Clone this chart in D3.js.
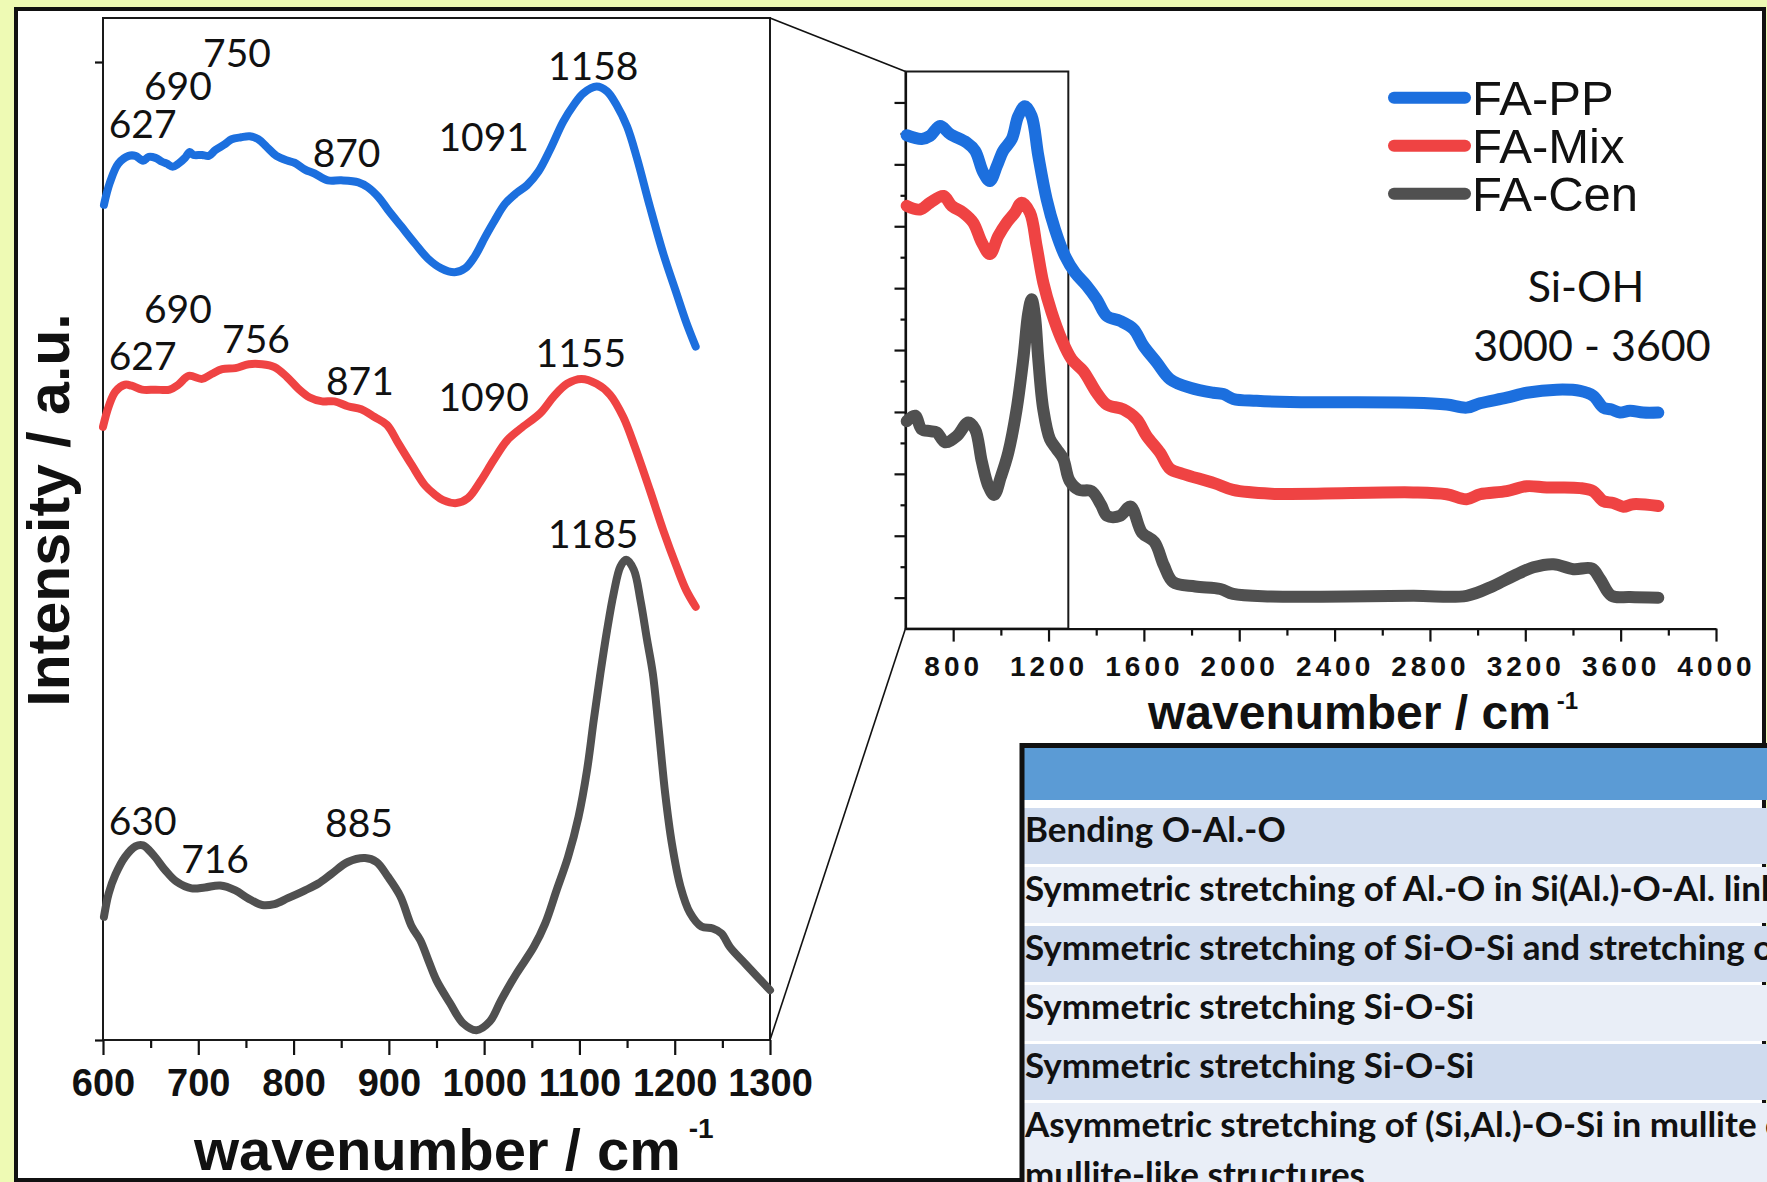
<!DOCTYPE html>
<html>
	<head>
		<meta charset="utf-8">
		<title>FTIR spectra of fly ash samples</title>
		<script src="https://d3js.org/d3.v7.min.js"></script>
		<style>
			body { margin: 0; background: #eefab4; }
			svg { display: block; }
		</style>
	</head>
	<body>
	<div id="chart"></div>
	<script type="text/javascript">
		// Series names and colours
		var seriesNames  = ["FA-PP", "FA-Mix", "FA-Cen"];
		var seriesColors = ["#1c6fde", "#ef4343", "#505050"];

		// Left panel, zoomed spectra 600 - 1300 cm-1 : [wavenumber, intensity a.u.]
		var ppZoom = [[601,85.4],[607,87.6],[616,89.6],[627,90.4],[634,90.4],[642,89.9],[648,90.3],[655,90.2],[662,89.8],[667,89.6],[673,89.3],[679,89.6],[686,90.2],[691,90.8],[695,90.5],[704,90.5],[711,90.4],[718,91.0],[728,91.6],[735,92.1],[745,92.3],[754,92.4],[763,92.1],[772,91.3],[782,90.4],[794,89.9],[801,89.7],[812,89.0],[822,88.6],[836,87.9],[850,87.9],[868,87.7],[878,87.2],[889,86.2],[899,84.9],[913,83.2],[927,81.5],[941,79.9],[955,78.9],[969,78.5],[980,78.9],[990,80.1],[1001,82.1],[1011,83.8],[1022,85.5],[1034,86.6],[1045,87.4],[1057,88.8],[1069,91.0],[1083,93.9],[1094,95.6],[1104,96.8],[1118,97.5],[1129,97.0],[1139,95.6],[1150,93.4],[1160,90.3],[1174,85.2],[1188,80.4],[1202,76.3],[1212,73.4],[1222,70.9]];
		var mixZoom = [[600,62.7],[606,64.8],[613,66.3],[623,67.0],[630,66.9],[641,66.5],[655,66.5],[670,66.5],[679,67.0],[690,67.9],[704,67.6],[714,68.1],[725,68.6],[739,68.7],[753,69.1],[767,69.1],[780,68.8],[793,67.8],[805,66.6],[817,65.7],[830,65.3],[843,65.3],[857,64.8],[871,64.5],[885,63.7],[898,62.9],[910,61.0],[924,58.8],[938,56.7],[948,55.8],[957,55.2],[971,54.9],[983,55.4],[996,57.1],[1010,59.3],[1024,61.3],[1038,62.5],[1059,64.1],[1073,65.8],[1087,67.1],[1102,67.6],[1118,67.1],[1132,66.0],[1146,63.7],[1158,60.7],[1174,56.2],[1188,52.1],[1202,48.4],[1212,46.0],[1222,44.3]];
		var cenZoom = [[601,12.6],[606,15.0],[613,16.9],[623,18.7],[634,19.8],[642,19.9],[653,18.9],[665,17.4],[677,16.2],[693,15.5],[707,15.6],[723,15.8],[739,15.3],[752,14.5],[767,13.8],[780,13.9],[794,14.5],[812,15.3],[826,16.0],[840,17.0],[857,18.2],[875,18.6],[887,18.2],[899,16.7],[912,14.7],[924,11.6],[933,10.2],[942,8.0],[950,6.1],[964,3.8],[978,1.7],[992,1.0],[1006,1.9],[1018,4.1],[1034,6.8],[1052,9.5],[1064,11.9],[1076,15.3],[1088,18.7],[1099,22.8],[1108,27.6],[1115,32.7],[1122,37.5],[1129,41.9],[1136,45.7],[1143,48.4],[1149,49.1],[1157,48.1],[1164,45.0],[1171,40.9],[1177,37.5],[1183,32.0],[1190,25.2],[1197,20.1],[1206,15.7],[1216,13.0],[1228,11.6],[1240,11.4],[1249,10.9],[1258,9.5],[1275,7.7],[1300,5.1]];

		// Right panel, full spectra 600 - 4000 cm-1 : [wavenumber, intensity a.u.]
		var ppFull = [[605,7.47],[668,7.41],[703,7.46],[745,7.62],[787,7.49],[857,7.35],[892,7.22],[926,6.87],[954,6.73],[983,6.97],[1010,7.22],[1046,7.41],[1073,7.78],[1101,7.94],[1129,7.78],[1157,7.14],[1192,6.44],[1227,5.95],[1269,5.52],[1311,5.25],[1360,5.04],[1402,4.82],[1444,4.55],[1500,4.47],[1556,4.34],[1598,4.07],[1654,3.80],[1710,3.53],[1794,3.39],[1891,3.31],[1933,3.29],[1975,3.21],[2073,3.18],[2213,3.16],[2730,3.15],[2870,3.12],[2954,3.07],[3010,3.14],[3122,3.23],[3206,3.31],[3332,3.36],[3430,3.34],[3485,3.26],[3527,3.07],[3562,3.04],[3597,2.99],[3639,3.02],[3695,2.99],[3758,2.99]];
		var mixFull = [[605,6.33],[661,6.27],[703,6.38],[759,6.49],[794,6.33],[842,6.22],[884,6.06],[920,5.74],[954,5.55],[989,5.84],[1025,6.06],[1059,6.22],[1087,6.38],[1122,6.22],[1150,5.68],[1178,5.09],[1213,4.61],[1255,4.17],[1297,3.85],[1346,3.66],[1402,3.31],[1444,3.12],[1514,3.04],[1570,2.88],[1612,2.61],[1668,2.34],[1710,2.08],[1763,2.00],[1895,1.85],[1974,1.74],[2133,1.68],[2730,1.70],[2870,1.67],[2954,1.59],[3010,1.67],[3122,1.72],[3206,1.80],[3290,1.78],[3430,1.77],[3485,1.72],[3527,1.56],[3569,1.53],[3611,1.47],[3653,1.51],[3758,1.48]];
		var cenFull = [[605,2.85],[640,2.94],[668,2.72],[703,2.69],[731,2.67],[766,2.51],[815,2.61],[863,2.83],[892,2.72],[920,2.20],[948,1.80],[972,1.66],[1000,1.95],[1031,2.34],[1066,3.04],[1094,3.85],[1115,4.60],[1129,4.82],[1143,4.55],[1157,3.85],[1178,3.04],[1206,2.56],[1234,2.40],[1262,2.24],[1288,1.89],[1327,1.74],[1380,1.72],[1420,1.50],[1446,1.32],[1499,1.32],[1544,1.47],[1592,1.05],[1644,0.90],[1684,0.52],[1723,0.25],[1816,0.18],[1921,0.14],[1974,0.06],[2133,0.02],[2730,0.03],[2954,0.03],[3066,0.19],[3150,0.35],[3234,0.49],[3318,0.54],[3402,0.46],[3479,0.47],[3514,0.30],[3562,0.03],[3639,0.01],[3758,0.00]];

		// Peak labels of the left panel : [text, wavenumber of left edge, intensity of baseline]
		var peakLabels = [["750",705,99.5],["690",643,96.1],["627",606,92.2],["870",820,89.3],["1091",952,90.9],["1158",1067,98.2],
		                  ["690",643,73.3],["627",606,68.5],["756",725,70.2],["871",834,66.0],["1090",952,64.3],["1155",1054,68.8],
		                  ["1185",1067,50.3],["630",606,21.0],["716",682,17.1],["885",833,20.8]];

		// Ticks
		var leftMajorTicks  = d3.range(600, 1301, 100);
		var leftMinorTicks  = d3.range(650, 1300, 100);
		var rightMajorTicks = d3.range(800, 4001, 400);
		var rightMinorTicks = d3.range(1000, 4000, 400);
		var rightYMajor     = d3.range(0, 9, 1);
		var rightYMinor     = d3.range(0.5, 8, 1);
		var zoomWindow      = [600, 1283];

		// Table rows under the inset
		var tableRows = ["Bending O-Al.-O",
		                 "Symmetric stretching of Al.-O in Si(Al.)-O-Al. linkages",
		                 "Symmetric stretching of Si-O-Si and stretching of",
		                 "Symmetric stretching Si-O-Si",
		                 "Symmetric stretching Si-O-Si",
		                 "Asymmetric stretching of (Si,Al.)-O-Si in mullite or"];
		var tableLastLine = "mullite-like structures";

		const W = 1767, H = 1182;
		const axisFont = "'Liberation Sans', Arial, sans-serif";
		const noteFont = "Lato, 'Noto Sans', sans-serif";

		var svg = d3.select("#chart").append("svg")
			.attr("width", W)
			.attr("height", H);

		// Yellow page and black frame
		svg.append("rect").attr("width", W).attr("height", H).attr("fill", "#eefab4");
		svg.append("rect")
			.attr("x", 16).attr("y", 9).attr("width", 1748).attr("height", 1171)
			.attr("fill", "#ffffff").attr("stroke", "#111").attr("stroke-width", 4);

		var lineGen = function(xs, ys) {
			return d3.line()
				.x(function(d) { return xs(d[0]); })
				.y(function(d) { return ys(d[1]); })
				.curve(d3.curveCatmullRom.alpha(0.5));
		};

		////////// LEFT PANEL //////////
		var xL = d3.scaleLinear().domain([600, 1300]).range([103, 770]);
		var yL = d3.scaleLinear().domain([0, 104.5]).range([1040, 18]);

		var left = svg.append("g");

		left.append("rect")
			.attr("x", xL(600)).attr("y", yL(104.5))
			.attr("width", xL(1300) - xL(600)).attr("height", yL(0) - yL(104.5))
			.attr("fill", "none").attr("stroke", "#1a1a1a").attr("stroke-width", 2);

		// X axis, major ticks with labels
		var gxL = left.append("g")
			.attr("transform", "translate(0," + yL(0) + ")")
			.call(d3.axisBottom(xL).tickValues(leftMajorTicks).tickSize(15).tickFormat(d3.format("d")));
		gxL.selectAll("text")
			.attr("y", 56).attr("dy", 0)
			.attr("font-family", axisFont).attr("font-size", 38).attr("font-weight", "bold").attr("fill", "#111");

		// X axis, minor ticks
		var gxLm = left.append("g")
			.attr("transform", "translate(0," + yL(0) + ")")
			.call(d3.axisBottom(xL).tickValues(leftMinorTicks).tickSize(8).tickFormat(""));

		// Y axis, two ticks only
		var gyL = left.append("g")
			.attr("transform", "translate(" + xL(600) + ",0)")
			.call(d3.axisLeft(yL).tickValues([0, 100]).tickSize(8).tickFormat(""));

		[gxL, gxLm, gyL].forEach(function(g) {
			g.select(".domain").remove();
			g.selectAll("line").attr("stroke", "#111").attr("stroke-width", 2.2);
		});

		// Curves
		[ppZoom, mixZoom, cenZoom].forEach(function(data, i) {
			left.append("path")
				.datum(data)
				.attr("d", lineGen(xL, yL))
				.attr("fill", "none")
				.attr("stroke", seriesColors[i])
				.attr("stroke-width", 8)
				.attr("stroke-linecap", "round")
				.attr("stroke-linejoin", "round");
		});

		// Peak labels
		left.selectAll(".peak")
			.data(peakLabels)
			.enter().append("text")
			.attr("class", "peak")
			.attr("x", function(d) { return xL(d[1]); })
			.attr("y", function(d) { return yL(d[2]); })
			.attr("font-family", noteFont).attr("font-size", 39).attr("fill", "#111")
			.text(function(d) { return d[0]; });

		// Axis titles
		var tL = left.append("text")
			.attr("x", 194).attr("y", 1170)
			.attr("font-family", axisFont).attr("font-size", 58).attr("font-weight", "bold").attr("fill", "#111");
		tL.append("tspan").text("wavenumber / cm");
		tL.append("tspan").attr("dx", 8).attr("dy", -32).attr("font-size", 28).text("-1");

		left.append("text")
			.attr("transform", "translate(69,510) rotate(-90)")
			.attr("text-anchor", "middle")
			.attr("font-family", axisFont).attr("font-size", 59).attr("font-weight", "bold").attr("fill", "#111")
			.text("Intensity / a.u.");

		////////// RIGHT PANEL (INSET) //////////
		var xR = d3.scaleLinear().domain([600, 4000]).range([905.5, 1716]);
		var yR = d3.scaleLinear().domain([-0.5, 8.5]).range([628.6, 71.5]);

		var right = svg.append("g");

		// Connectors from the left panel to the zoom window
		right.append("line")
			.attr("x1", xL(1300)).attr("y1", yL(104.5)).attr("x2", xR(600)).attr("y2", yR(8.5))
			.attr("stroke", "#111").attr("stroke-width", 1.6);
		right.append("line")
			.attr("x1", xL(1300)).attr("y1", yL(0)).attr("x2", xR(600)).attr("y2", yR(-0.5))
			.attr("stroke", "#111").attr("stroke-width", 1.6);

		// Zoom window
		right.append("rect")
			.attr("x", xR(zoomWindow[0])).attr("y", yR(8.5))
			.attr("width", xR(zoomWindow[1]) - xR(zoomWindow[0])).attr("height", yR(-0.5) - yR(8.5))
			.attr("fill", "none").attr("stroke", "#1a1a1a").attr("stroke-width", 2);

		var gxR = right.append("g")
			.attr("transform", "translate(0," + yR(-0.5) + ")")
			.call(d3.axisBottom(xR).tickValues(rightMajorTicks).tickSize(13).tickSizeOuter(0).tickFormat(d3.format("d")));
		gxR.selectAll("text")
			.attr("y", 47).attr("dy", 0).attr("dx", 0)
			.attr("font-family", axisFont).attr("font-size", 28).attr("font-weight", "bold")
			.attr("letter-spacing", 4).attr("fill", "#111");
		var gxRm = right.append("g")
			.attr("transform", "translate(0," + yR(-0.5) + ")")
			.call(d3.axisBottom(xR).tickValues(rightMinorTicks).tickSize(7).tickFormat(""));
		gxRm.select(".domain").remove();

		var gyR = right.append("g")
			.attr("transform", "translate(" + xR(600) + ",0)")
			.call(d3.axisLeft(yR).tickValues(rightYMajor).tickSize(11).tickSizeOuter(0).tickFormat(""));
		var gyRm = right.append("g")
			.attr("transform", "translate(" + xR(600) + ",0)")
			.call(d3.axisLeft(yR).tickValues(rightYMinor).tickSize(5).tickFormat(""));
		gyRm.select(".domain").remove();

		[gxR, gxRm, gyR, gyRm].forEach(function(g) {
			g.selectAll("line").attr("stroke", "#111").attr("stroke-width", 2.2);
			g.selectAll(".domain").attr("stroke", "#111").attr("stroke-width", 2.2);
		});

		[ppFull, mixFull, cenFull].forEach(function(data, i) {
			right.append("path")
				.datum(data)
				.attr("d", lineGen(xR, yR))
				.attr("fill", "none")
				.attr("stroke", seriesColors[i])
				.attr("stroke-width", 12)
				.attr("stroke-linecap", "round")
				.attr("stroke-linejoin", "round");
		});

		var tR = right.append("text")
			.attr("x", 1148).attr("y", 729)
			.attr("font-family", axisFont).attr("font-size", 48).attr("font-weight", "bold").attr("fill", "#111");
		tR.append("tspan").text("wavenumber / cm");
		tR.append("tspan").attr("dx", 6).attr("dy", -20).attr("font-size", 24).text("-1");

		// Legend
		var legend = right.selectAll(".legend")
			.data(seriesNames)
			.enter().append("g")
			.attr("class", "legend")
			.attr("transform", function(d, i) { return "translate(1394," + (97.7 + i * 48) + ")"; });
		legend.append("line")
			.attr("x1", 0).attr("x2", 71)
			.attr("stroke", function(d, i) { return seriesColors[i]; })
			.attr("stroke-width", 12).attr("stroke-linecap", "round");
		legend.append("text")
			.attr("x", 78).attr("y", 17)
			.attr("font-family", axisFont).attr("font-size", 49).attr("fill", "#111")
			.text(function(d) { return d; });

		// Si-OH note
		right.append("text")
			.attr("x", 1586).attr("y", 302).attr("text-anchor", "middle")
			.attr("font-family", noteFont).attr("font-size", 43).attr("fill", "#111")
			.text("Si-OH");
		right.append("text")
			.attr("x", 1592).attr("y", 361).attr("text-anchor", "middle")
			.attr("font-family", noteFont).attr("font-size", 43).attr("fill", "#111")
			.text("3000 - 3600");

		////////// TABLE //////////
		var table = svg.append("g");
		table.append("rect")
			.attr("x", 1022).attr("y", 745).attr("width", W - 1022).attr("height", 55)
			.attr("fill", "#5b9bd5");
		table.selectAll(".row")
			.data(tableRows)
			.enter().append("rect")
			.attr("class", "row")
			.attr("x", 1022)
			.attr("y", function(d, i) { return 808 + i * 59; })
			.attr("width", W - 1022)
			.attr("height", function(d, i) { return i == 5 ? 100 : 56; })
			.attr("fill", function(d, i) { return i % 2 == 0 ? "#cfdbee" : "#e9eef7"; });
		table.selectAll(".cell")
			.data(tableRows)
			.enter().append("text")
			.attr("class", "cell")
			.attr("x", 1025)
			.attr("y", function(d, i) { return 842 + i * 59; })
			.attr("font-family", noteFont).attr("font-size", 35).attr("font-weight", "bold").attr("fill", "#111")
			.text(function(d) { return d; });
		table.append("text")
			.attr("x", 1025).attr("y", 1187)
			.attr("font-family", noteFont).attr("font-size", 35).attr("font-weight", "bold").attr("fill", "#111")
			.text(tableLastLine);
		table.append("line")
			.attr("x1", 1020).attr("x2", W).attr("y1", 745.5).attr("y2", 745.5)
			.attr("stroke", "#111").attr("stroke-width", 5);
		table.append("line")
			.attr("x1", 1022).attr("x2", 1022).attr("y1", 743).attr("y2", H)
			.attr("stroke", "#111").attr("stroke-width", 5);
	</script>
	</body>
</html>
